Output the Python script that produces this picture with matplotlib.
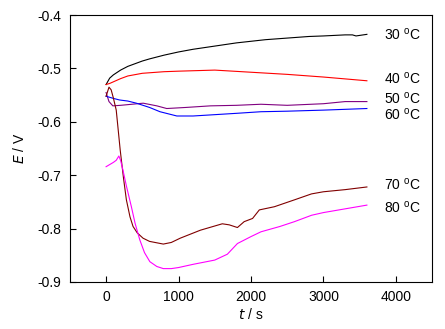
import matplotlib
matplotlib.use("Agg")
import matplotlib.pyplot as plt

plt.rcParams['font.family'] = ['Liberation Sans', 'DejaVu Sans']
plt.rcParams['axes.unicode_minus'] = False

# open circuit potential vs time
t30 = [0, 50, 100, 200, 300, 400, 500, 600, 800, 1000, 1200, 1500, 1800, 2000,
       2200, 2500, 2800, 3000, 3300, 3400, 3450, 3600]
e30 = [-0.530, -0.518, -0.512, -0.503, -0.496, -0.491, -0.486, -0.482, -0.475,
       -0.469, -0.464, -0.458, -0.452, -0.449, -0.446, -0.443, -0.440, -0.439,
       -0.437, -0.437, -0.439, -0.436]

t40 = [0, 50, 100, 200, 300, 500, 800, 1000, 1500, 2000, 2500, 3000, 3600]
e40 = [-0.530, -0.528, -0.525, -0.519, -0.514, -0.509, -0.506, -0.505, -0.503,
       -0.507, -0.511, -0.516, -0.523]

t50 = [0, 40, 93, 200, 279, 512, 700, 837, 1100, 1441, 1800, 2138, 2500, 3000,
       3300, 3600]
e50 = [-0.545, -0.562, -0.570, -0.569, -0.568, -0.565, -0.570, -0.575, -0.573,
       -0.570, -0.569, -0.567, -0.569, -0.566, -0.562, -0.562]

t60 = [0, 100, 186, 300, 418, 600, 744, 977, 1200, 1441, 1800, 2138, 2500,
       3000, 3600]
e60 = [-0.552, -0.556, -0.559, -0.561, -0.565, -0.573, -0.581, -0.589, -0.589,
       -0.587, -0.584, -0.581, -0.580, -0.578, -0.575]

t70 = [0, 40, 70, 100, 140, 195, 240, 280, 330, 372, 430, 510, 600, 790, 900,
       1023, 1302, 1604, 1700, 1813, 1906, 2022, 2115, 2324, 2603, 2835, 3000,
       3300, 3600]
e70 = [-0.552, -0.535, -0.540, -0.555, -0.578, -0.653, -0.705, -0.746, -0.778,
       -0.796, -0.808, -0.818, -0.824, -0.829, -0.826, -0.818, -0.803, -0.791,
       -0.793, -0.798, -0.787, -0.781, -0.765, -0.759, -0.746, -0.735, -0.731,
       -0.727, -0.722]

t80 = [0, 50, 100, 140, 176, 200, 232, 280, 349, 400, 465, 530, 604, 700, 790,
       900, 1000, 1200, 1500, 1674, 1813, 2000, 2138, 2400, 2600, 2837, 3000,
       3300, 3600]
e80 = [-0.684, -0.680, -0.676, -0.672, -0.664, -0.672, -0.690, -0.720, -0.759,
       -0.790, -0.821, -0.845, -0.862, -0.871, -0.875, -0.875, -0.873, -0.867,
       -0.859, -0.848, -0.828, -0.815, -0.806, -0.796, -0.787, -0.775, -0.770,
       -0.763, -0.756]

labels = ['30 $^\\mathregular{o}$C', '40 $^\\mathregular{o}$C', '50 $^\\mathregular{o}$C',
          '60 $^\\mathregular{o}$C', '70 $^\\mathregular{o}$C', '80 $^\\mathregular{o}$C']
label_y = [-0.436, -0.518, -0.557, -0.587, -0.718, -0.760]
colors = ['black', 'red', '#800080', 'blue', '#800000', 'magenta']

fig = plt.figure(figsize=(4.45, 3.29), dpi=100)
ax = fig.add_axes([0.157, 0.143, 0.814, 0.811])

series = [(t30, e30), (t40, e40), (t50, e50), (t60, e60), (t70, e70), (t80, e80)]
for (t, e), c in zip(series, colors):
    ax.plot(t, e, color=c, lw=0.8)

for lab, y in zip(labels, label_y):
    ax.text(3835, y, lab, fontsize=10, va='center', ha='left')

ax.set_xlim(-500, 4500)
ax.set_ylim(-0.9, -0.4)
ax.set_xticks([0, 1000, 2000, 3000, 4000])
ax.set_yticks([-0.9, -0.8, -0.7, -0.6, -0.5, -0.4])
ax.set_yticklabels(['-0.9', '-0.8', '-0.7', '-0.6', '-0.5', '-0.4'])
ax.tick_params(direction='in', length=4, labelsize=10, pad=6)
ax.set_xlabel('$\\it{t}$ / s', fontsize=10, labelpad=2)
ax.set_ylabel('$\\it{E}$ / V', fontsize=10, labelpad=8)

fig.savefig('out.png', dpi=100)
